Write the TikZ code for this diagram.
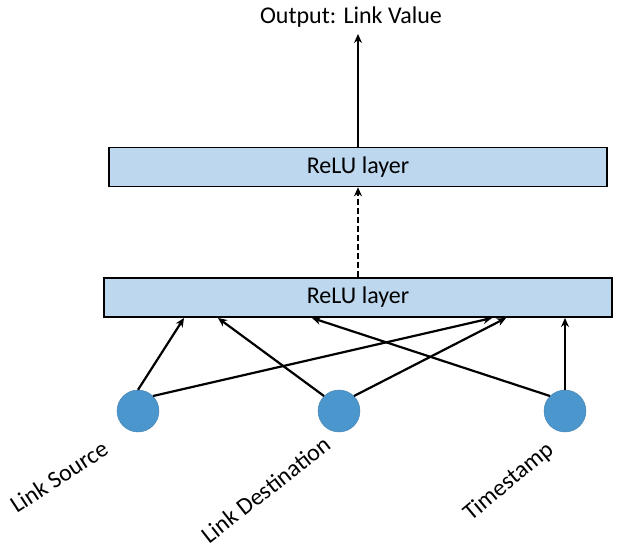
\documentclass[tikz,border=0pt]{standalone}
\usepackage{fontspec}
\setmainfont{Carlito}
\usetikzlibrary{arrows.meta}

\definecolor{layerblue}{RGB}{188,215,238}
\definecolor{inputblue}{RGB}{76,150,206}

\tikzset{
    layer/.style={draw=black, line width=1.6pt, fill=layerblue, minimum width=#1, minimum height=39pt, inner sep=0pt, font=\fontsize{24}{28}\selectfont},
    inputnode/.style={circle, fill=inputblue, draw=inputblue!85!black, line width=0.4pt, minimum size=42pt, inner sep=0pt},
    inlabel/.style={anchor=base east, rotate=#1, inner sep=0pt, font=\fontsize{24}{28}\selectfont},
    link/.style={line width=2.2pt, -{Stealth[length=9pt,width=8pt]}}
}

\begin{document}
\begin{tikzpicture}[x=1pt, y=1pt]
    \useasboundingbox (0, 0) rectangle (623, -551);

    \node[layer=498pt] (top) at (358, -167) {ReLU layer};
    \node[layer=508pt] (low) at (358, -297.5) {ReLU layer};

    \node[inputnode] (src) at (138, -411) {};
    \node[inputnode] (dst) at (339, -411) {};
    \node[inputnode] (ts) at (565, -411) {};

    \node[font=\fontsize{24}{28}\selectfont] (out) at (351, -17) {Output: Link Value};
    \coordinate (outtip) at (358, -34);

    \node[inlabel=33] (srclab) at (110, -453) {Link Source};
    \node[inlabel=38] (dstlab) at (333, -448) {Link Destination};
    \node[inlabel=40] (tslab) at (555, -452) {Timestamp};

    % tips on the lower layer
    \coordinate (a1) at (184, -318);
    \coordinate (a2) at (218, -318);
    \coordinate (a3) at (312, -318);
    \coordinate (a4) at (492, -318);
    \coordinate (a5) at (506, -318);
    \coordinate (a6) at (565, -318);

    \draw[link] (src.north) -- (a1);
    \draw[link] (src.45) -- (a4);
    \draw[link] (dst.135) -- (a2);
    \draw[link] (dst.45) -- (a5);
    \draw[link] (ts.135) -- (a3);
    \draw[link] (ts.north) -- (a6);

    \draw[link, dash pattern=on 6pt off 3pt] (low.north -| 358, 0) -- (top.south -| 358, 0);
    \draw[link] (top.north -| 358, 0) -- (outtip);
\end{tikzpicture}
\end{document}
